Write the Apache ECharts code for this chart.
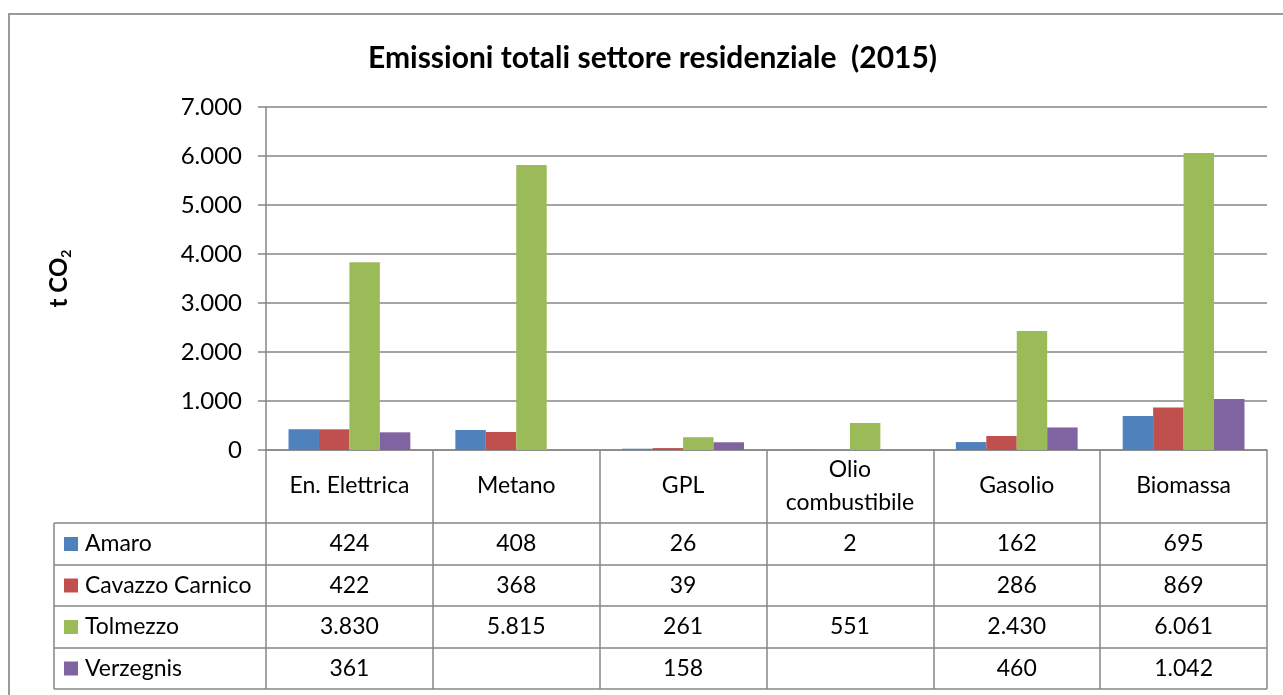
<!DOCTYPE html>
<html>
<head>
<meta charset="utf-8">
<script src="https://cdn.jsdelivr.net/npm/echarts@6/dist/echarts.min.js"></script>
<style>
  html,body{margin:0;padding:0;background:#fff;}
  #chart{width:1283px;height:695px;}
</style>
</head>
<body>
<div id="chart"></div>
<script>
// categories and series
var categories = ['En. Elettrica', 'Metano', 'GPL', 'Olio\ncombustibile', 'Gasolio', 'Biomassa'];
var names = ['Amaro', 'Cavazzo Carnico', 'Tolmezzo', 'Verzegnis'];
var amaro = [424, 408, 26, 2, 162, 695];
var cavazzo = [422, 368, 39, null, 286, 869];
var tolmezzo = [3830, 5815, 261, 551, 2430, 6061];
var verzegnis = [361, null, 158, null, 460, 1042];
var colors = ['#4F81BD', '#C0504D', '#9BBB59', '#8064A2'];
var allData = [amaro, cavazzo, tolmezzo, verzegnis];

var FONT = 'Lato';
var GRAY = '#868686';
var FS = 23;

function fmt(v){
  if (v === null || v === undefined) return '';
  return String(v).replace(/\B(?=(\d{3})+(?!\d))/g, '.');
}

var chart = echarts.init(document.getElementById('chart'));

var series = [];
for (var i = 0; i < names.length; i++) {
  series.push({
    name: names[i],
    type: 'bar',
    data: allData[i],
    barGap: 0,
    barCategoryGap: '27%',
    itemStyle: {color: colors[i]}
  });
}

var option = {
  animation: false,
  textStyle: {fontFamily: FONT},
  title: {
    text: 'Emissioni totali settore residenziale  (2015)',
    left: 363,
    top: 38,
    textStyle: {fontFamily: FONT, fontWeight: 'bold', fontSize: 30, color: '#000'}
  },
  grid: {left: 266, right: 16, top: 107, bottom: 245, containLabel: false},
  xAxis: {
    type: 'category',
    data: categories,
    axisLine: {lineStyle: {color: GRAY, width: 1.5}},
    axisTick: {show: true, length: 239, interval: 0, lineStyle: {color: GRAY, width: 1.5}},
    axisLabel: {
      interval: 0, margin: 36, verticalAlign: 'middle', lineHeight: 33,
      fontFamily: FONT, fontSize: FS, color: '#000'
    }
  },
  yAxis: {
    type: 'value',
    min: 0, max: 7000, interval: 1000,
    name: '{a|t CO}{s|2}',
    nameLocation: 'middle',
    nameRotate: 90,
    nameGap: 193,
    nameTextStyle: {
      rich: {
        a: {fontFamily: FONT, fontWeight: 'bold', fontSize: 24, color: '#000'},
        s: {fontFamily: FONT, fontWeight: 'bold', fontSize: 14, color: '#000', padding: [13, 0, 0, 0]}
      }
    },
    axisLine: {show: true, lineStyle: {color: GRAY, width: 1.5}},
    axisTick: {show: true, length: 8, lineStyle: {color: GRAY, width: 1.5}},
    splitLine: {lineStyle: {color: GRAY, width: 1.5}},
    axisLabel: {margin: 24, fontFamily: FONT, fontSize: 24, color: '#000', formatter: fmt}
  },
  series: series
};
chart.setOption(option);

// data table under the plot
var rowTops = [523, 565, 606, 648, 689];
var tableLeft = 54, tableRight = 1267;
var g = [];
g.push({type: 'rect', shape: {x: 9, y: 14, width: 1300, height: 720},
  style: {fill: 'none', stroke: '#9a9a9a', lineWidth: 2}, silent: true});
for (var r = 0; r < rowTops.length; r++) {
  g.push({type: 'line', shape: {x1: tableLeft, y1: rowTops[r], x2: tableRight, y2: rowTops[r]},
    style: {stroke: GRAY, lineWidth: 1.5}});
}
g.push({type: 'line', shape: {x1: tableLeft, y1: rowTops[0], x2: tableLeft, y2: rowTops[4]},
  style: {stroke: GRAY, lineWidth: 1.5}});
for (var s = 0; s < names.length; s++) {
  var cy = (rowTops[s] + rowTops[s + 1]) / 2;
  g.push({type: 'rect', shape: {x: 64, y: cy - 7, width: 14, height: 14}, style: {fill: colors[s]}});
  g.push({type: 'text', x: 85, y: cy, style: {text: names[s], fontFamily: FONT, fontSize: FS,
    fill: '#000', align: 'left', verticalAlign: 'middle'}});
  for (var c = 0; c < categories.length; c++) {
    var px = chart.convertToPixel({xAxisIndex: 0}, c);
    g.push({type: 'text', x: px, y: cy, style: {text: fmt(allData[s][c]), fontFamily: FONT,
      fontSize: FS, fill: '#000', align: 'center', verticalAlign: 'middle'}});
  }
}
chart.setOption({graphic: g});
</script>
</body>
</html>
